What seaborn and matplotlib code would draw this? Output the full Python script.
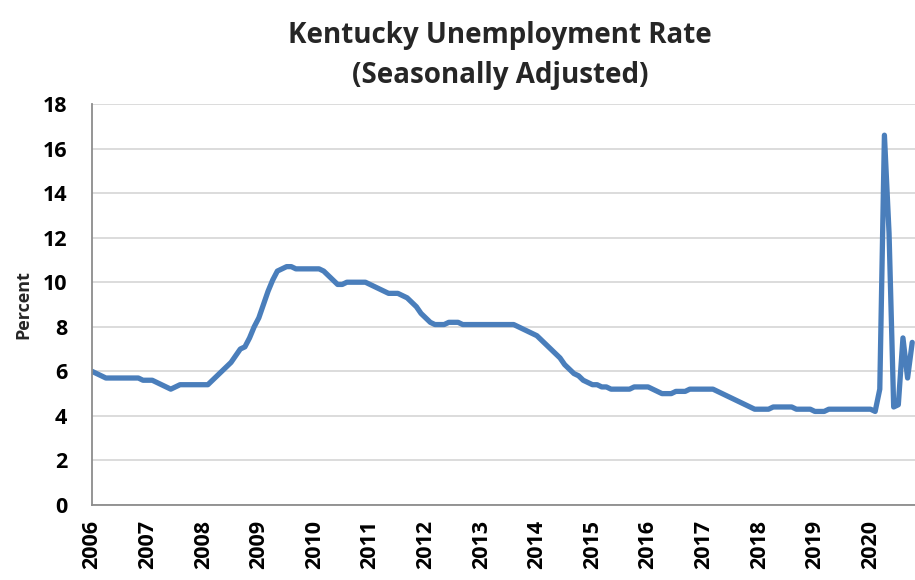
import numpy as np
import pandas as pd
import matplotlib
matplotlib.use("Agg")
import matplotlib.pyplot as plt
import seaborn as sns

# Monthly unemployment rate (percent), Jan..Dec of each year
u2006 = [6.0, 5.9, 5.8, 5.7, 5.7, 5.7, 5.7, 5.7, 5.7, 5.7, 5.7, 5.6]
u2007 = [5.6, 5.6, 5.5, 5.4, 5.3, 5.2, 5.3, 5.4, 5.4, 5.4, 5.4, 5.4]
u2008 = [5.4, 5.4, 5.6, 5.8, 6.0, 6.2, 6.4, 6.7, 7.0, 7.1, 7.5, 8.0]
u2009 = [8.4, 9.0, 9.6, 10.1, 10.5, 10.6, 10.7, 10.7, 10.6, 10.6, 10.6, 10.6]
u2010 = [10.6, 10.6, 10.5, 10.3, 10.1, 9.9, 9.9, 10.0, 10.0, 10.0, 10.0, 10.0]
u2011 = [9.9, 9.8, 9.7, 9.6, 9.5, 9.5, 9.5, 9.4, 9.3, 9.1, 8.9, 8.6]
u2012 = [8.4, 8.2, 8.1, 8.1, 8.1, 8.2, 8.2, 8.2, 8.1, 8.1, 8.1, 8.1]
u2013 = [8.1, 8.1, 8.1, 8.1, 8.1, 8.1, 8.1, 8.1, 8.0, 7.9, 7.8, 7.7]
u2014 = [7.6, 7.4, 7.2, 7.0, 6.8, 6.6, 6.3, 6.1, 5.9, 5.8, 5.6, 5.5]
u2015 = [5.4, 5.4, 5.3, 5.3, 5.2, 5.2, 5.2, 5.2, 5.2, 5.3, 5.3, 5.3]
u2016 = [5.3, 5.2, 5.1, 5.0, 5.0, 5.0, 5.1, 5.1, 5.1, 5.2, 5.2, 5.2]
u2017 = [5.2, 5.2, 5.2, 5.1, 5.0, 4.9, 4.8, 4.7, 4.6, 4.5, 4.4, 4.3]
u2018 = [4.3, 4.3, 4.3, 4.4, 4.4, 4.4, 4.4, 4.4, 4.3, 4.3, 4.3, 4.3]
u2019 = [4.2, 4.2, 4.2, 4.3, 4.3, 4.3, 4.3, 4.3, 4.3, 4.3, 4.3, 4.3]
u2020 = [4.3, 4.2, 5.2, 16.6, 12.2, 4.4, 4.5, 7.5, 5.7, 7.3]

years = list(range(2006, 2021))
series = [u2006, u2007, u2008, u2009, u2010, u2011, u2012, u2013,
          u2014, u2015, u2016, u2017, u2018, u2019, u2020]

rows = []
for yr, vals in zip(years, series):
    for m, v in enumerate(vals):
        rows.append({"t": yr + m / 12.0, "rate": v})
df = pd.DataFrame(rows)

sns.set_theme(style="white")
plt.rcParams['font.family'] = ['Open Sans', 'DejaVu Sans']

fig = plt.figure(figsize=(9.15, 5.8), dpi=100)
ax = fig.add_axes([92 / 915, 1 - 505 / 580, 1 - 92 / 915, (505 - 104) / 580])

sns.lineplot(data=df, x="t", y="rate", ax=ax, color="#4a7ebb", linewidth=3.8)

ax.set_ylim(0, 18)
ax.set_xlim(2006, 2020.8)
ax.set_yticks(np.arange(0, 19, 2))
ax.set_xticks(years)
ax.set_xticklabels([str(y) for y in years], rotation=90, fontsize=15.5, fontweight="bold")
ax.set_yticklabels([str(v) for v in range(0, 19, 2)], fontsize=15.5, fontweight="bold")
ax.yaxis.grid(True, color="#d9d9d9", linewidth=1.3)
ax.xaxis.grid(False)
ax.set_axisbelow(True)
for s in ["top", "right"]:
    ax.spines[s].set_visible(False)
for s in ["left", "bottom"]:
    ax.spines[s].set_color("#8c8c8c")
    ax.spines[s].set_linewidth(1.3)
ax.tick_params(axis="both", which="major", direction="out", length=6, width=1.2,
               color="#8c8c8c", labelcolor="black")
ax.tick_params(axis="x", pad=5)
ax.tick_params(axis="y", pad=12)
ax.set_xlabel("")
ax.set_ylabel("Percent", fontsize=13, fontweight="bold", labelpad=0)
ax.yaxis.set_label_coords(-0.072, 0.5)

fig.text(500 / 915, 1 - 56 / 580, "Kentucky Unemployment Rate\n(Seasonally Adjusted)",
         ha="center", va="center", fontsize=20, fontweight="bold", linespacing=1.5)

fig.savefig("out.png", dpi=100)
